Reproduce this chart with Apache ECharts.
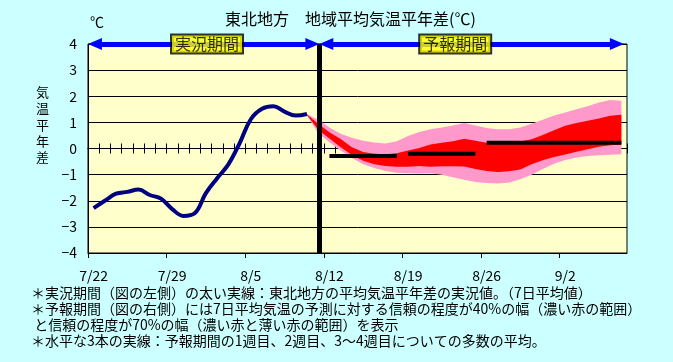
<!DOCTYPE html>
<html><head><meta charset="utf-8">
<script src="https://cdn.jsdelivr.net/npm/echarts@6/dist/echarts.min.js"></script>
<style>html,body{margin:0;padding:0;background:#ccffff;}#c{width:673px;height:362px;}</style>
</head><body><div id="c"></div>
<script>
// ---- data ----
const tickDays = [0, 7, 14, 21, 28, 35, 42];
const tickLabels = ['7/22', '7/29', '8/5', '8/12', '8/19', '8/26', '9/2'];
const obsDays = [0.5,1.5,2.5,3.5,4.5,5.5,6.5,7.5,8.5,9.5,10.5,11.5,12.5,13.5,14.5,15.5,16.5,17.5,18.5,19.5];
const obsValues = [-2.28,-2.0,-1.73,-1.66,-1.57,-1.78,-1.92,-2.32,-2.58,-2.48,-1.71,-1.14,-0.61,0.2,1.12,1.52,1.62,1.41,1.26,1.32];
const fcDays = [19.5,20.5,21.5,22.5,23.5,24.5,25.5,26.5,27.5,28.5,29.5,30.5,31.5,32.5,33.5,34.5,35.5,36.5,37.5,38.5,39.5,40.5,41.5,42.5,43.5,44.5,45.5,46.5,47.5];
const band70Upper = [1.32,1.1,0.8,0.56,0.41,0.3,0.23,0.19,0.28,0.48,0.63,0.74,0.8,0.88,0.98,0.88,0.78,0.74,0.74,0.8,0.95,1.1,1.26,1.38,1.5,1.62,1.76,1.86,1.83];
const band40Upper = [1.3,0.95,0.62,0.36,0.05,-0.13,-0.2,-0.22,-0.18,-0.08,0.02,0.15,0.22,0.28,0.37,0.3,0.22,0.2,0.22,0.27,0.35,0.52,0.7,0.87,0.98,1.06,1.15,1.25,1.29];
const band40Lower = [1.28,0.72,0.38,0.05,-0.25,-0.47,-0.6,-0.67,-0.7,-0.7,-0.67,-0.7,-0.68,-0.68,-0.69,-0.78,-0.86,-0.9,-0.87,-0.8,-0.6,-0.45,-0.33,-0.23,-0.12,-0.03,0.07,0.12,0.15];
const band70Lower = [1.26,0.58,0.24,-0.08,-0.36,-0.6,-0.75,-0.86,-0.93,-0.95,-0.96,-0.95,-1.0,-1.1,-1.2,-1.28,-1.32,-1.34,-1.3,-1.18,-1.0,-0.78,-0.58,-0.44,-0.34,-0.29,-0.26,-0.24,-0.22];
const weekStart = [21.5, 28.5, 35.5];
const weekEnd = [27.5, 34.5, 47.5];
const weekMean = [-0.29, -0.2, 0.22];
const forecastStartDay = 20.6;
const periodNames = ['実況期間', '予報期間'];

const FONT = '"Noto Sans CJK JP", "Noto Sans", sans-serif';
const chart = echarts.init(document.getElementById('c'));

function band(upper, lower, color) {
  return {
    type: 'custom', coordinateSystem: 'cartesian2d', silent: true, z: 2,
    data: fcDays.map((d, i) => [d, upper[i], lower[i]]),
    encode: { x: 0, y: [1, 2] },
    renderItem: (params, api) => {
      if (params.dataIndex !== 0) return null;
      const pts = [];
      for (let i = 0; i < fcDays.length; i++) pts.push(api.coord([fcDays[i], upper[i]]));
      for (let i = fcDays.length - 1; i >= 0; i--) pts.push(api.coord([fcDays[i], lower[i]]));
      return { type: 'polygon', shape: { points: pts }, style: { fill: color } };
    }
  };
}

const zeroAxis = (inside) => ({
  type: 'value', min: 0, max: 48, interval: 1, position: 'bottom',
  axisLine: { show: true, onZero: true, onZeroAxisIndex: 0, lineStyle: { color: '#000', width: 1 } },
  axisTick: { show: true, inside: inside, length: 5, lineStyle: { color: '#000', width: 1 } },
  axisLabel: { show: false }, splitLine: { show: false }
});

chart.setOption({
  backgroundColor: '#ccffff',
  animation: false,
  title: {
    text: '東北地方　地域平均気温平年差(℃)', left: 220, top: 6,
    textStyle: { fontFamily: FONT, fontSize: 16, fontWeight: 'normal', color: '#000' }
  },
  grid: {
    left: 88, right: 46, top: 44, bottom: 109, outerBoundsMode: 'none',
    show: true, backgroundColor: '#ffffcc', borderColor: '#000', borderWidth: 1
  },
  xAxis: [
    {
      type: 'value', min: 0, max: 48, interval: 7,
      axisLine: { show: true, onZero: false, lineStyle: { color: '#000', width: 1 } },
      axisTick: { show: true, customValues: tickDays, length: 5, lineStyle: { color: '#000' } },
      axisLabel: {
        customValues: tickDays.map(d => d + 0.5), margin: 16,
        formatter: v => tickLabels[tickDays.indexOf(Math.round(v - 0.5))] || '',
        fontFamily: FONT, fontSize: 14, color: '#000'
      },
      splitLine: { show: false }
    },
    zeroAxis(true),
    zeroAxis(false)
  ],
  yAxis: {
    type: 'value', min: -4, max: 4, interval: 1,
    axisLine: { show: true, lineStyle: { color: '#000' } },
    axisTick: { show: false },
    axisLabel: {
      margin: 11, fontFamily: FONT, fontSize: 14, color: '#000',
      formatter: v => String(v).replace('-', '−')
    },
    splitLine: { show: true, lineStyle: { color: '#000', width: 1 } }
  },
  graphic: [
    { type: 'text', left: 90, top: 15, style: { text: '℃', font: '14px ' + FONT, fill: '#000' } },
    { type: 'text', left: 36, top: 84, style: { text: '気\n温\n平\n年\n差', font: '13px ' + FONT, lineHeight: 16.25, fill: '#000' } },
    { type: 'text', left: 31, top: 285, style: {
      text: '＊実況期間（図の左側）の太い実線：東北地方の平均気温平年差の実況値。（7日平均値）\n' +
            '＊予報期間（図の右側）には7日平均気温の予測に対する信頼の程度が40%の幅（濃い赤の範囲）\n' +
            '\u00a0と信頼の程度が70%の幅（濃い赤と薄い赤の範囲）を表示\n' +
            '＊水平な3本の実線：予報期間の1週目、2週目、3～4週目についての多数の平均。',
      font: '14px ' + FONT, lineHeight: 16, fill: '#000' } }
  ],
  series: [
    band(band70Upper, band70Lower, '#ff99cc'),
    band(band40Upper, band40Lower, '#ff0000'),
    {
      type: 'custom', coordinateSystem: 'cartesian2d', silent: true, z: 4,
      data: weekStart.map((s, i) => [s, weekEnd[i], weekMean[i]]),
      encode: { x: [0, 1], y: 2 },
      renderItem: (params, api) => {
        const a = api.coord([api.value(0), api.value(2)]);
        const b = api.coord([api.value(1), api.value(2)]);
        return { type: 'line', shape: { x1: a[0], y1: a[1], x2: b[0], y2: b[1] }, style: { stroke: '#000', lineWidth: 4 } };
      }
    },
    {
      type: 'line', smooth: 0.4, showSymbol: false, z: 5, silent: true,
      data: obsDays.map((d, i) => [d, obsValues[i]]),
      lineStyle: { color: '#000080', width: 4 },
      markLine: {
        silent: true, symbol: 'none', animation: false,
        label: { show: false },
        lineStyle: { color: '#000', width: 5, type: 'solid' },
        data: [{ xAxis: forecastStartDay }]
      }
    },
    {
      type: 'scatter', symbolSize: 0, z: 10, silent: true,
      data: [[10.6, 4, periodNames[0]], [32.7, 4, periodNames[1]]],
      label: {
        show: true, position: 'inside', formatter: p => p.data[2],
        fontFamily: FONT, fontSize: 16, color: '#000',
        backgroundColor: '#ffff00', borderColor: '#000', borderWidth: 2, padding: [1, 3, 0, 3]
      },
      markLine: {
        silent: true, animation: false, symbol: ['triangle', 'triangle'], symbolSize: [12, 14],
        label: { show: false },
        lineStyle: { color: '#0000ff', width: 5, type: 'solid' },
        data: [
          [{ coord: [0.62, 4] }, { coord: [forecastStartDay - 0.62, 4] }],
          [{ coord: [forecastStartDay + 0.62, 4] }, { coord: [47.1, 4] }]
        ]
      }
    }
  ]
});
</script></body></html>
